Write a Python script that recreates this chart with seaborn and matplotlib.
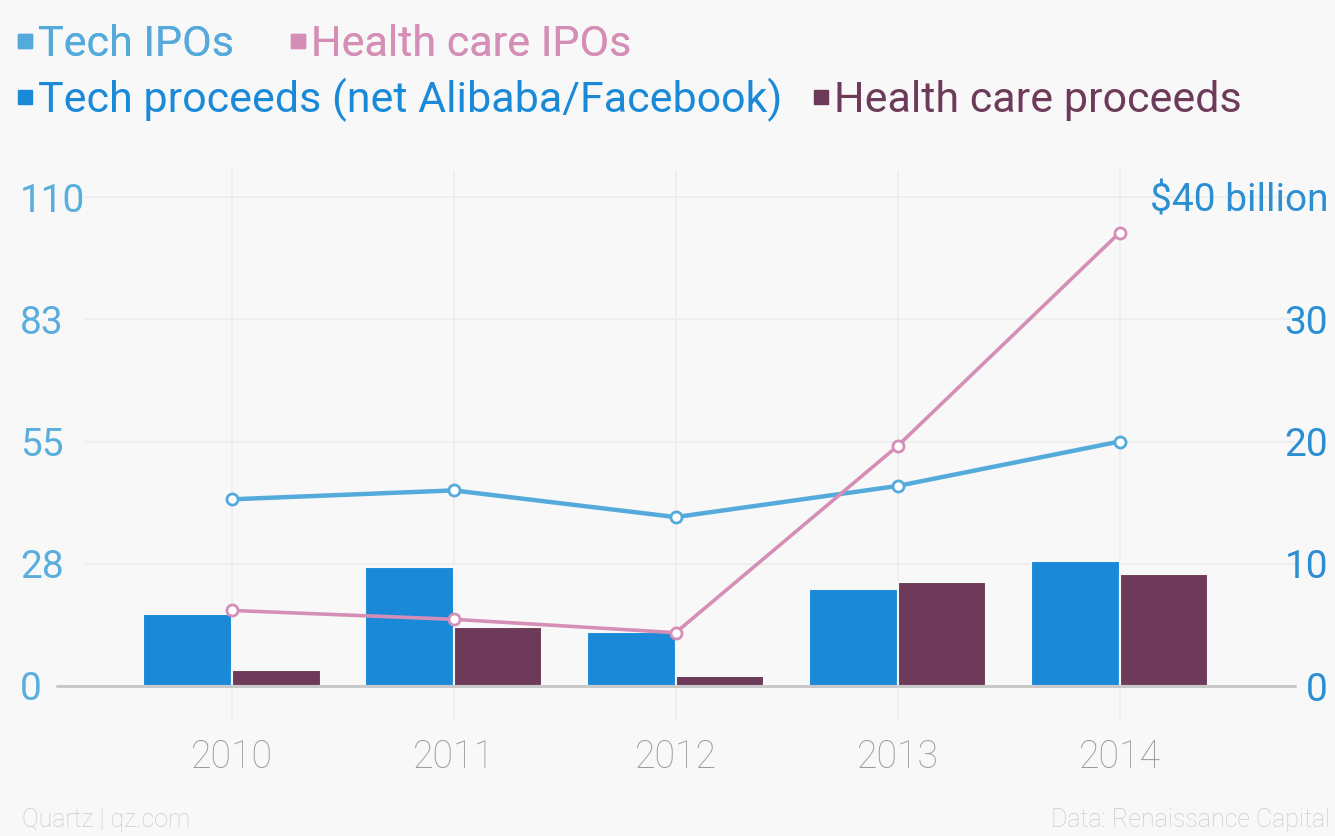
import pandas as pd
import matplotlib.pyplot as plt
import seaborn as sns
from matplotlib.lines import Line2D

# Data
years = ['2010', '2011', '2012', '2013', '2014']
tech_ipos = [42, 44, 38, 45, 55]
health_ipos = [17, 15, 12, 54, 102]
tech_proceeds = [5.9, 9.7, 4.4, 7.9, 10.2]      # $ billion, net Alibaba/Facebook
health_proceeds = [1.3, 4.8, 0.8, 8.5, 9.2]     # $ billion

left_ticks = [0, 27.5, 55, 82.5, 110]
left_labels = ['0', '28', '55', '83', '110']
right_ticks = [0, 10, 20, 30, 40]
right_labels = ['0', '10', '20', '30', '$40 billion']

series_names = ['Tech IPOs', 'Health care IPOs',
                'Tech proceeds (net Alibaba/Facebook)', 'Health care proceeds']
colors = {'Tech IPOs': '#55aadc', 'Health care IPOs': '#d58fb6',
          'Tech proceeds (net Alibaba/Facebook)': '#1a8ad8',
          'Health care proceeds': '#6d3a59'}

bg = '#f8f8f8'
sns.set_theme(style='white')
plt.rcParams['font.family'] = ['Roboto', 'DejaVu Sans']

# Tidy frames for seaborn
bars = pd.DataFrame({
    'year': years * 2,
    'value': tech_proceeds + health_proceeds,
    'series': [series_names[2]] * len(years) + [series_names[3]] * len(years),
})
lines = pd.DataFrame({
    'year': years * 2,
    'value': tech_ipos + health_ipos,
    'series': [series_names[0]] * len(years) + [series_names[1]] * len(years),
})

fig = plt.figure(figsize=(13.35, 8.36), dpi=100, facecolor=bg)
ax = fig.add_axes([85 / 1335, 116 / 836, 1210 / 1335, 550 / 836])
ax.set_facecolor(bg)

# Proceeds bars (right-hand $ billion scale)
sns.barplot(data=bars, x='year', y='value', hue='series', order=years,
            hue_order=series_names[2:], palette=colors, width=0.8,
            edgecolor=bg, linewidth=1.5, saturation=1, legend=False, ax=ax)

# IPO count lines (left-hand scale) on a twin axis so they sit on top
ax2 = ax.twinx()
sns.lineplot(data=lines, x='year', y='value', hue='series',
             hue_order=series_names[:2], palette=colors, marker='o',
             markersize=8, markerfacecolor='white', markeredgewidth=2,
             legend=False, ax=ax2)
for line, lw in zip(ax2.lines, [3.2, 2.6]):
    line.set_linewidth(lw)
    line.set_markeredgecolor(line.get_color())

ax.set_xlim(-0.661, 4.79)
ax.set_ylim(-2.78, 42.21)
ax2.set_ylim(-7.65, 116.08)

for a in (ax, ax2):
    a.set_xlabel('')
    a.set_ylabel('')
    for s in a.spines.values():
        s.set_visible(False)

# Right axis ticks belong to the bar axis, left ticks to the line axis
ax.yaxis.tick_right()
ax.set_yticks(right_ticks, right_labels)
ax.tick_params(axis='y', length=0, pad=23.8, labelsize=28, colors='#2b8fd2')
for lab in ax.get_yticklabels():
    lab.set_ha('right')

ax2.yaxis.tick_left()
ax2.set_yticks(left_ticks, left_labels)
ax2.tick_params(axis='y', length=0, pad=46.8, labelsize=28, colors='#5aaede')
for lab in ax2.get_yticklabels():
    lab.set_ha('left')

ax.tick_params(axis='x', length=0, pad=13, labelsize=27, colors='#9c9c9c')
for lab in ax.get_xticklabels():
    lab.set_fontweight('light')
ax2.tick_params(axis='x', labelbottom=False, length=0)

ax.set_axisbelow(True)
ax.grid(True, axis='both', color='#ececec', linewidth=1.2)
ax.axhline(0, xmin=-0.023, xmax=1.0, color='#c9c9c9', linewidth=2.2,
           clip_on=False, zorder=1.5)

# Legend, two rows
handles = [Line2D([], [], marker='s', ls='', markersize=10,
                  color=colors[n]) for n in series_names]
leg1 = fig.legend(handles[:2], series_names[:2], loc='center left',
                  bbox_to_anchor=(16 / 1335, 1 - 45 / 836), ncol=2, frameon=False,
                  fontsize=31, labelcolor='markerfacecolor', handlelength=0.4,
                  handletextpad=0.1, columnspacing=1.3, borderaxespad=0,
                  borderpad=0)
fig.legend(handles[2:], series_names[2:], loc='center left',
           bbox_to_anchor=(16 / 1335, 1 - 100 / 836), ncol=2, frameon=False,
           fontsize=31, labelcolor='markerfacecolor', handlelength=0.4,
           handletextpad=0.1, columnspacing=0.7, borderaxespad=0, borderpad=0)
fig.add_artist(leg1)

# Footer
fig.text(22 / 1335, 4 / 836, 'Quartz | qz.com', fontsize=18, color='#cacaca',
         ha='left', va='bottom', fontweight='light')
fig.text(1330 / 1335, 4 / 836, 'Data: Renaissance Capital', fontsize=18,
         color='#cacaca', ha='right', va='bottom', fontweight='light')

fig.savefig('out.png', dpi=100, facecolor=bg)
